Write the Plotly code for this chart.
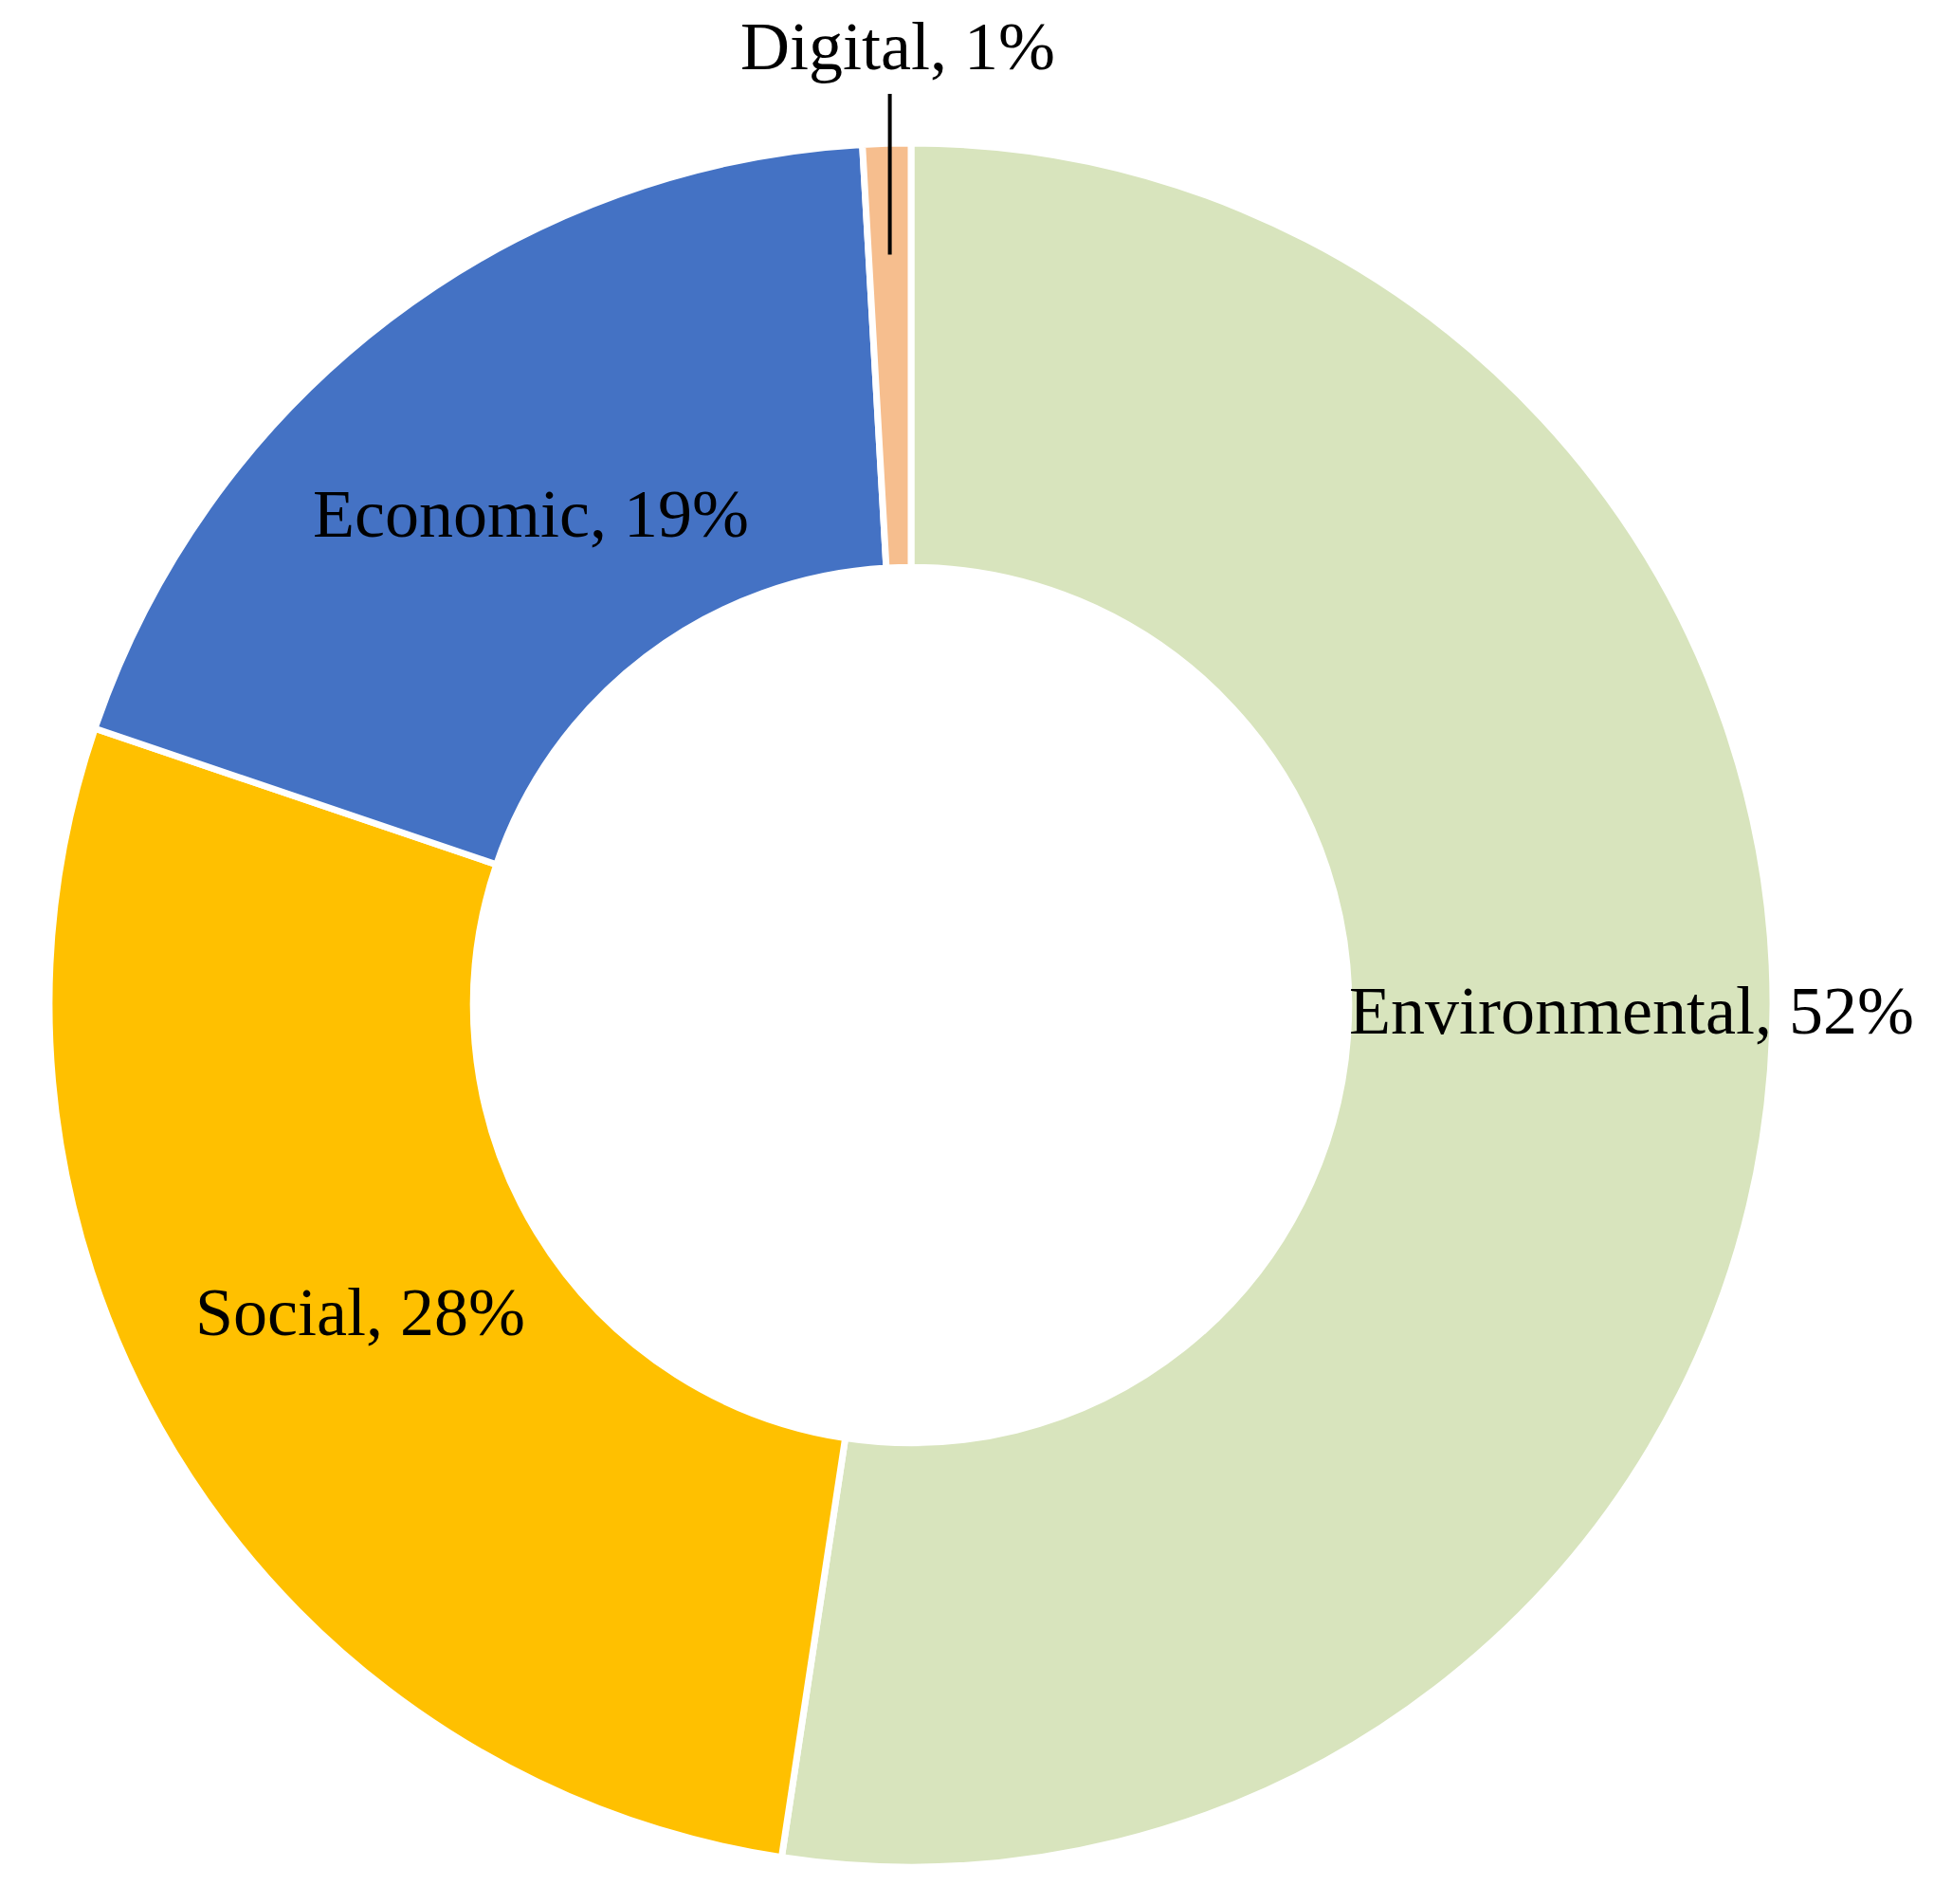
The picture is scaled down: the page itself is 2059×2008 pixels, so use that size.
import math

import plotly.graph_objects as go

# data (clockwise from 12 o'clock)
categories = ["Environmental", "Social", "Economic", "Digital"]
shares = [52.4, 27.8, 18.9, 0.9]
share_labels = ["52%", "28%", "19%", "1%"]
colors = ["#D8E4BD", "#FFC000", "#4472C4", "#F6BE8E"]

W, H = 2059, 2008
OFF = 8                              # browser body margin around the plot div
L, T, SIZE = 44, 143, 1818           # square plot area, pie radius = SIZE/2
HOLE = 0.508
FONT = "Liberation Serif"
FSIZE = 72

# label nudges (px) to mimic the original placement
nudge = {"Environmental": (80, -45), "Social": (2, -31), "Economic": (12, 25)}

fig = go.Figure(go.Pie(
    labels=categories,
    values=shares,
    sort=False,
    direction="clockwise",
    rotation=0,
    hole=HOLE,
    textinfo="none",
    hoverinfo="label+percent",
    marker=dict(colors=colors, line=dict(color="white", width=7)),
    showlegend=False,
))

# pie centre / visible radius in page pixels
cx, cy = OFF + L + SIZE / 2, OFF + T + SIZE / 2
r_out = SIZE / 2 - 4
r_mid = r_out * (1 + HOLE) / 2


def to_paper(px, py):
    return (px - OFF - L) / SIZE, 1 - (py - OFF - T) / SIZE


annotations = []
shapes = []
total = sum(shares)
cum = 0.0
for name, v, pct in zip(categories, shares, share_labels):
    mid = (cum + v / 2) / total * 2 * math.pi
    cum += v
    text = f"{name}, {pct}"
    if name == "Digital":
        # leader line straight up from inside the thin slice
        x0 = cx + 0.875 * r_out * math.sin(mid)
        y0 = cy - 0.875 * r_out * math.cos(mid)
        y1 = 99
        a, b = to_paper(x0, y0)
        _, b1 = to_paper(x0, y1)
        shapes.append(dict(type="line", xref="paper", yref="paper",
                           x0=a, y0=b, x1=a, y1=b1,
                           line=dict(color="black", width=4)))
        tx, ty = to_paper(x0 + 8, 91)
        annotations.append(dict(x=tx, y=ty, xref="paper", yref="paper",
                                text=text, showarrow=False,
                                xanchor="center", yanchor="bottom",
                                font=dict(family=FONT, size=FSIZE, color="black")))
        continue
    dx, dy = nudge.get(name, (0, 0))
    px = cx + r_mid * math.sin(mid) + dx
    py = cy - r_mid * math.cos(mid) + dy
    tx, ty = to_paper(px, py)
    annotations.append(dict(x=tx, y=ty, xref="paper", yref="paper",
                            text=text, showarrow=False,
                            xanchor="center", yanchor="middle",
                            font=dict(family=FONT, size=FSIZE, color="black")))

fig.update_layout(
    width=W, height=H,
    margin=dict(l=L, r=W - L - SIZE, t=T, b=H - T - SIZE),
    paper_bgcolor="white",
    plot_bgcolor="white",
    annotations=annotations,
    shapes=shapes,
)

fig.write_html("out.html")
